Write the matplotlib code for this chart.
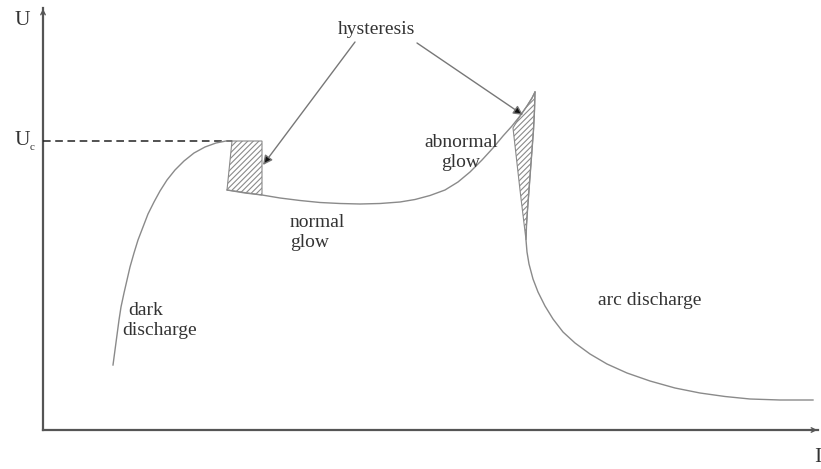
import numpy as np
import matplotlib.pyplot as plt
from matplotlib.patches import Polygon

plt.rcParams['font.family'] = ['Liberation Serif', 'DejaVu Serif']
plt.rcParams['hatch.linewidth'] = 0.8
plt.rcParams['hatch.color'] = '#808080'

# schematic current-voltage characteristic of a gas discharge (arbitrary units)
dark_I = [70, 72, 74, 76, 78, 81, 84, 87, 91, 95, 100, 105, 111, 117, 124, 132,
          141, 151, 162, 173, 183, 189]
dark_U = [65, 80, 95, 110, 123, 137, 150, 163, 177, 190, 203, 216, 228, 239, 250, 260,
          269, 277, 283, 287, 289, 289]

glow_I = [184, 202, 219, 237, 257, 277, 297, 317, 337, 357, 372, 387, 402, 415, 427,
          439, 450, 460, 469, 477, 484, 489, 492]
glow_U = [240, 237, 235, 232, 229.5, 227.5, 226.5, 226, 226.5, 228, 230.5, 234.5, 240,
          248, 258, 270, 282, 294, 304, 314, 324, 332, 338]

arc_I = [492, 491.5, 490.5, 489, 487.5, 486, 484.5, 483.5, 483, 484, 486, 490, 495, 502,
         510, 520, 532, 547, 564, 584, 607, 632, 657, 682, 707, 737, 770]
arc_U = [338, 320, 300, 280, 260, 240, 220, 205, 190, 178, 166, 151, 138, 124,
         111, 98, 87, 76, 66, 57, 49, 42, 37, 33.5, 31, 30, 30]

# hysteresis regions
hyst1_I = [189, 219, 219, 184]
hyst1_U = [289, 289, 235, 240]
hyst2_I = [492, 491.5, 490.5, 489, 487.5, 486, 484.5, 483.5, 483, 477, 472.5, 470,
           477, 484, 489]
hyst2_U = [338, 320, 300, 280, 260, 240, 220, 205, 190, 240, 280, 302,
           314, 324, 332]

U_c = 289
U_max = 422
I_max = 775

fig = plt.figure(figsize=(8.21, 4.69), dpi=100)
ax = fig.add_axes([0, 0, 1, 1])
ax.set_xlim(-43, 778)
ax.set_ylim(-39, 430)
ax.axis('off')

axis_col = '#555555'
curve_col = '#8a8a8a'
text_col = '#333333'

# axes with small arrow tips
ax.plot([0, 0], [0, U_max], color=axis_col, lw=1.6)
ax.plot([0, I_max], [0, 0], color=axis_col, lw=1.6)
ax.annotate('', xy=(0, U_max + 2), xytext=(0, U_max - 8),
            arrowprops=dict(arrowstyle='->', color=axis_col, lw=1.0, mutation_scale=8))
ax.annotate('', xy=(I_max + 2, 0), xytext=(I_max - 8, 0),
            arrowprops=dict(arrowstyle='->', color=axis_col, lw=1.0, mutation_scale=8))

ax.plot([0, dark_I[-1]], [U_c, U_c], color='#222222', lw=1.1, ls=(0, (5, 3)))

ax.plot(dark_I, dark_U, color=curve_col, lw=1.0)
ax.plot(glow_I, glow_U, color=curve_col, lw=1.0)
ax.plot(arc_I, arc_U, color=curve_col, lw=1.0)

for hi, hu in [(hyst1_I, hyst1_U), (hyst2_I, hyst2_U)]:
    ax.add_patch(Polygon(np.column_stack([hi, hu]), closed=True, fill=False,
                         hatch='//////', edgecolor='#8a8a8a', lw=0.8))

# labels
fs = 14
ax.text(-21, 410, 'U', fontsize=15.5, color=text_col, ha='center', va='center')
ax.text(-21, 290, 'U', fontsize=15.5, color=text_col, ha='center', va='center')
ax.text(-11, 283, 'c', fontsize=8, color=text_col, ha='center', va='center')
ax.text(771, -27, 'I', fontsize=15.5, color=text_col, ha='left', va='center')

ax.text(334, 401, 'hysteresis', fontsize=fs, color=text_col, ha='center', va='center')
ax.annotate('', xy=(220, 265), xytext=(312, 388),
            arrowprops=dict(arrowstyle='-|>', fc='#111111', ec='#777777', lw=1.0,
                            mutation_scale=14, shrinkA=0, shrinkB=0))
ax.annotate('', xy=(480, 315), xytext=(374, 387),
            arrowprops=dict(arrowstyle='-|>', fc='#111111', ec='#777777', lw=1.0,
                            mutation_scale=14, shrinkA=0, shrinkB=0))

ax.text(85, 120, 'dark', fontsize=fs, color=text_col, ha='left', va='center')
ax.text(79, 100, 'discharge', fontsize=fs, color=text_col, ha='left', va='center')
ax.text(247, 208, 'normal', fontsize=fs, color=text_col, ha='left', va='center')
ax.text(247, 188, 'glow', fontsize=fs, color=text_col, ha='left', va='center')
ax.text(418, 288, 'abnormal', fontsize=fs, color=text_col, ha='center', va='center')
ax.text(418, 268, 'glow', fontsize=fs, color=text_col, ha='center', va='center')
ax.text(555, 130, 'arc discharge', fontsize=fs, color=text_col, ha='left', va='center')

fig.savefig('out.png', dpi=100, facecolor='white')
